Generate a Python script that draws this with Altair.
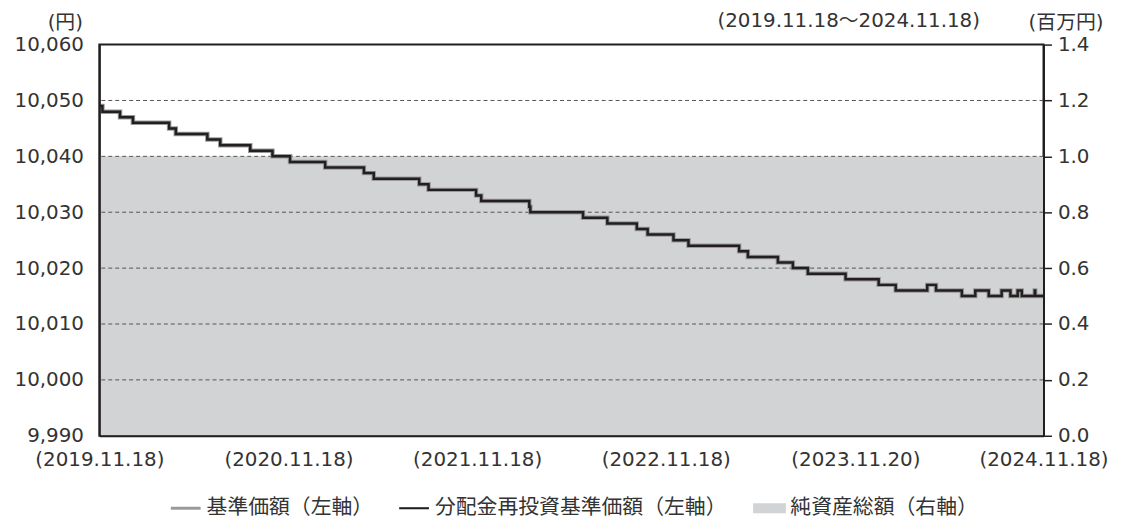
import altair as alt
import pandas as pd

# ---- data ----
dates = [
    "2019-11-18", "2019-11-24", "2019-12-28", "2020-01-22", "2020-04-01",
    "2020-04-14", "2020-06-14", "2020-07-09", "2020-09-05", "2020-10-18",
    "2020-11-21", "2021-01-28", "2021-04-13", "2021-05-02", "2021-07-29",
    "2021-08-16", "2021-11-16", "2021-11-26", "2022-02-27", "2022-03-01",
    "2022-06-11", "2022-07-28", "2022-09-23", "2022-10-14", "2022-12-03",
    "2023-01-01", "2023-04-09", "2023-04-26", "2023-06-23", "2023-07-22",
    "2023-08-20", "2023-11-01", "2024-01-04", "2024-02-06", "2024-04-07",
    "2024-04-24", "2024-06-13", "2024-07-09", "2024-08-04", "2024-08-29",
    "2024-09-15", "2024-09-29", "2024-10-07", "2024-11-01", "2024-11-02",
    "2024-11-18",
]
nav = [
    10049, 10048, 10047, 10046, 10045,
    10044, 10043, 10042, 10041, 10040,
    10039, 10038, 10037, 10036, 10035,
    10034, 10033, 10032, 10031, 10030,
    10029, 10028, 10027, 10026, 10025,
    10024, 10023, 10022, 10021, 10020,
    10019, 10018, 10017, 10016, 10017,
    10016, 10015, 10016, 10015, 10016,
    10015, 10016, 10015, 10016, 10015,
    10015,
]
nav_reinvested = list(nav)  # no distributions: identical to base price

asset_dates = ["2019-11-18", "2024-11-18"]
net_assets = [1.0, 1.0]  # 百万円

left_ticks = [9990, 10000, 10010, 10020, 10030, 10040, 10050, 10060]
grid_values = [10000, 10010, 10020, 10030, 10040, 10050]
right_ticks = [0.0, 0.2, 0.4, 0.6, 0.8, 1.0, 1.2, 1.4]
x_tick_dates = [(2019, 11, 18), (2020, 11, 18), (2021, 11, 18),
                (2022, 11, 18), (2023, 11, 20), (2024, 11, 18)]
x_domain = [(2019, 11, 18), (2024, 11, 18)]

series_names = ["基準価額（左軸）", "分配金再投資基準価額（左軸）", "純資産総額（右軸）"]
series_colors = ["#9a9a9a", "#231f20", "#d1d3d4"]
series_shapes = ["M-1,-0.1H1V0.1H-1Z", "M-1,-0.07H1V0.07H-1Z", "M-1.1,-0.34H1.1V0.34H-1.1Z"]

period_text = "(2019.11.18～2024.11.18)"
left_unit = "(円)"
right_unit = "(百万円)"

# ---- tables ----
nav_df = pd.DataFrame({"date": dates, "nav": nav, "nav_reinvested": nav_reinvested})
asset_df = pd.DataFrame({"date": asset_dates, "assets": net_assets})
grid_df = pd.DataFrame({"grid": grid_values})
legend_df = pd.DataFrame({"series": series_names})

TEXT = "#333333"
INK = "#231f20"
FONT = "DejaVu Sans, Noto Sans CJK JP, sans-serif"


def dt(t):
    return alt.DateTime(year=t[0], month=t[1], date=t[2], utc=True)


x_enc = alt.X(
    "date:T",
    scale=alt.Scale(type="utc", domain=[dt(d) for d in x_domain]),
    axis=alt.Axis(
        values=[dt(d) for d in x_tick_dates],
        labelExpr="'(' + utcFormat(datum.value, '%Y.%m.%d') + ')'",
        title=None, grid=False, ticks=False, tickSize=0,
        domain=True, domainColor=INK, domainWidth=2,
        labelFontSize=20, labelColor=TEXT, labelPadding=14,
        labelFlush=False, labelOverlap=False, zindex=1,
    ),
)


def y_left(field):
    return alt.Y(
        f"{field}:Q",
        scale=alt.Scale(domain=[9990, 10060], zero=False, nice=False),
        axis=alt.Axis(
            orient="left", values=left_ticks, format=",d", grid=False,
            ticks=False, domain=True, domainColor=INK, domainWidth=2,
            labelFontSize=20, labelColor=TEXT, labelPadding=16,
            title=left_unit, titleAngle=0, titleAlign="right",
            titleBaseline="alphabetic", titleX=-17, titleY=-16,
            titleFontSize=20, titleFontWeight="normal", titleColor=TEXT,
            zindex=1,
        ),
    )


area = alt.Chart(asset_df).mark_area(
    color=series_colors[2], interpolate="step-after"
).encode(
    x=x_enc,
    y=alt.Y(
        "assets:Q",
        scale=alt.Scale(domain=[0, 1.4], nice=False),
        axis=alt.Axis(
            orient="right", values=right_ticks, format=".1f", grid=False,
            ticks=True, tickSize=8, tickColor=INK, tickWidth=1.5,
            domain=True, domainColor=INK, domainWidth=2,
            labelFontSize=20, labelColor=TEXT, labelPadding=6,
            title=right_unit, titleAngle=0, titleAlign="right",
            titleBaseline="alphabetic", titleX=60, titleY=-16,
            titleFontSize=20, titleFontWeight="normal", titleColor=TEXT,
            zindex=1,
        ),
    ),
)

grid = alt.Chart(grid_df).mark_rule(
    color="#555555", strokeWidth=1, strokeDash=[4, 3]
).encode(y=y_left("grid"))

gray_line = alt.Chart(nav_df).mark_line(
    interpolate="step-after", color=series_colors[0], strokeWidth=4.5
).encode(x=x_enc, y=y_left("nav"))

black_line = alt.Chart(nav_df).mark_line(
    interpolate="step-after", color=series_colors[1], strokeWidth=2.5
).encode(x=x_enc, y=y_left("nav_reinvested"))

legend_props = dict(
    orient="none", legendX=72, legendY=452, direction="horizontal", title=None,
    symbolSize=900, symbolStrokeWidth=0, symbolOpacity=1,
    labelFontSize=21, labelColor=TEXT, labelOffset=6,
    columnPadding=26, labelLimit=400,
)

legend_layer = alt.Chart(legend_df).transform_filter("false").mark_point(
    filled=True
).encode(
    color=alt.Color(
        "series:N",
        scale=alt.Scale(domain=series_names, range=series_colors),
        legend=alt.Legend(**legend_props),
    ),
    shape=alt.Shape(
        "series:N",
        scale=alt.Scale(domain=series_names, range=series_shapes),
        legend=alt.Legend(**legend_props),
    ),
)

left_group = alt.layer(grid, gray_line, black_line, legend_layer)

chart = alt.layer(area, left_group).resolve_scale(y="independent").properties(
    width=951,
    height=394,
    autosize=alt.AutoSizeParams(type="none"),
    padding={"left": 92, "top": 35, "right": 70, "bottom": 83},
    title=alt.TitleParams(
        period_text, anchor="end", frame="group", dx=-64, fontSize=20,
        fontWeight="normal", color=TEXT, baseline="alphabetic", offset=-34,
        font=FONT,
    ),
).configure(
    font=FONT,
).configure_view(
    stroke=INK, strokeWidth=2,
)

chart.save("out.html", embed_options={"renderer": "svg", "actions": False})
